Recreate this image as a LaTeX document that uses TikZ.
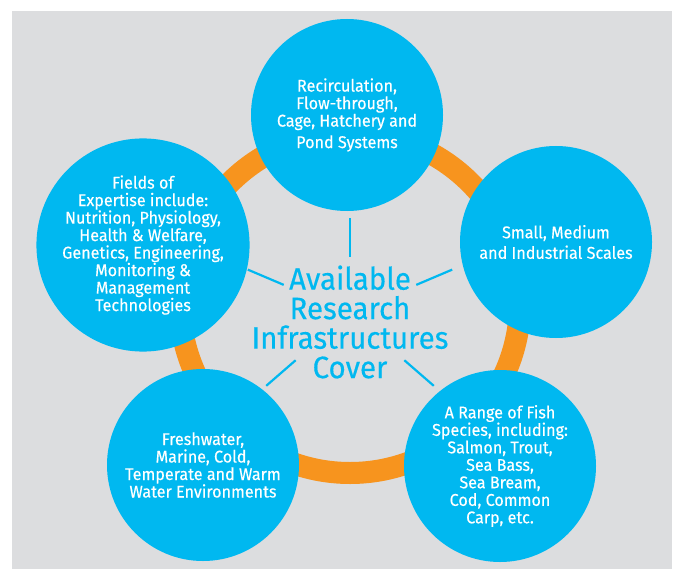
\documentclass[tikz,border=0pt]{standalone}
\usepackage{fontspec}
\setmainfont[FakeStretch=0.95,FakeBold=0.35]{Fira Sans}
\usetikzlibrary{calc}

\definecolor{bgGray}{HTML}{DCDDDF}
\definecolor{ringOrange}{HTML}{F7941E}
\definecolor{infraBlue}{HTML}{00B8F0}

\tikzset{
  topic/.style={circle,fill=infraBlue,minimum size=192pt,inner sep=0pt,
    text=white,align=center,font=\fontsize{17}{17.5}\selectfont},
  spoke/.style={draw=infraBlue,line width=2.2pt}
}

\begin{document}
\begin{tikzpicture}[x=1pt,y=-1pt]
                \useasboundingbox (0,0) rectangle (676,569);
                \fill[bgGray] (12,11) rectangle (672,569);
                \coordinate (hub) at (350,313);
                \draw[ringOrange,line width=22pt] (350,303) circle (170);
                \node[topic] (systems) at (347,115) {Recirculation,\\Flow-through,\\Cage, Hatchery and\\[4pt]Pond Systems};
                \node[topic] (scales) at (556,242) {Small, Medium\\[3pt]and Industrial Scales};
                \node[topic] (species) at (500,466) {A Range of Fish\\Species, including:\\Salmon, Trout,\\Sea Bass,\\Sea Bream,\\Cod, Common\\Carp, etc.};
                \node[topic] (waters) at (203,465) {Freshwater,\\Marine, Cold,\\Temperate and Warm\\Water Environments};
                \node[topic] (expertise) at (143,245) {Fields of\\Expertise include:\\Nutrition, Physiology,\\Health \& Welfare,\\Genetics, Engineering,\\Monitoring \&\\Management\\Technologies};
                \node[text=infraBlue,align=center,font=\fontsize{31}{29.5}\selectfont] (title) at (350,322)
                    {Available\\Research\\Infrastructures\\Cover};
                \draw[spoke] ($(hub)+(0,-95)$) -- ($(hub)+(0,-56)$);
                \foreach \ang in {203,337,139,41}
                    \draw[spoke] ($(hub)+(\ang:72)$) -- ($(hub)+(\ang:111)$);
            \end{tikzpicture}
\end{document}
